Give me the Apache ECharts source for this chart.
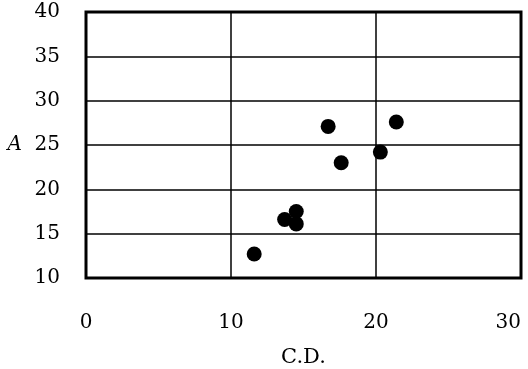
<!DOCTYPE html>
<html>
<head>
<meta charset="utf-8">
<script src="https://cdn.jsdelivr.net/npm/echarts@6/dist/echarts.min.js"></script>
<style>
  html, body { margin: 0; padding: 0; background: #fff; }
  #chart { width: 528px; height: 369px; }
</style>
</head>
<body>
<div id="chart"></div>
<script>
// C.D. (x) vs A (y)
var cdValues = [11.6, 13.7, 14.5, 14.5, 16.7, 17.6, 20.3, 21.4];
var aValues  = [12.7, 16.6, 17.5, 16.1, 27.1, 23.0, 24.2, 27.6];

var points = [];
for (var i = 0; i < cdValues.length; i++) {
    points.push([cdValues[i], aValues[i]]);
}

var font = 'DejaVu Serif';
var chart = echarts.init(document.getElementById('chart'));
var option = {
    animation: false,
    backgroundColor: '#fff',
    grid: {
        left: 86, right: 7, top: 12, bottom: 91,
        outerBoundsMode: 'none',
        show: true,
        borderColor: '#000',
        borderWidth: 3
    },
    xAxis: {
        type: 'value',
        min: 0, max: 30, interval: 10,
        name: 'C.D.',
        nameLocation: 'middle',
        nameGap: 69,
        nameTextStyle: { fontFamily: font, fontSize: 21, color: '#000' },
        axisLine: { show: false },
        axisTick: { show: false },
        axisLabel: {
            margin: 35, fontFamily: font, fontSize: 20, color: '#000',
            alignMaxLabel: 'right'
        },
        splitLine: { lineStyle: { color: '#000', width: 1.5 } }
    },
    yAxis: {
        type: 'value',
        min: 10, max: 40, interval: 5,
        name: 'A',
        nameLocation: 'middle',
        nameRotate: 0,
        nameGap: 64,
        nameTextStyle: { fontFamily: font, fontSize: 20, fontStyle: 'italic', color: '#000' },
        axisLine: { show: false },
        axisTick: { show: false },
        axisLabel: { margin: 26, fontFamily: font, fontSize: 20, color: '#000' },
        splitLine: { lineStyle: { color: '#000', width: 1.5 } }
    },
    series: [{
        type: 'scatter',
        symbol: 'circle',
        symbolSize: 15,
        itemStyle: { color: '#000', opacity: 1 },
        data: points
    }]
};
chart.setOption(option);
</script>
</body>
</html>
